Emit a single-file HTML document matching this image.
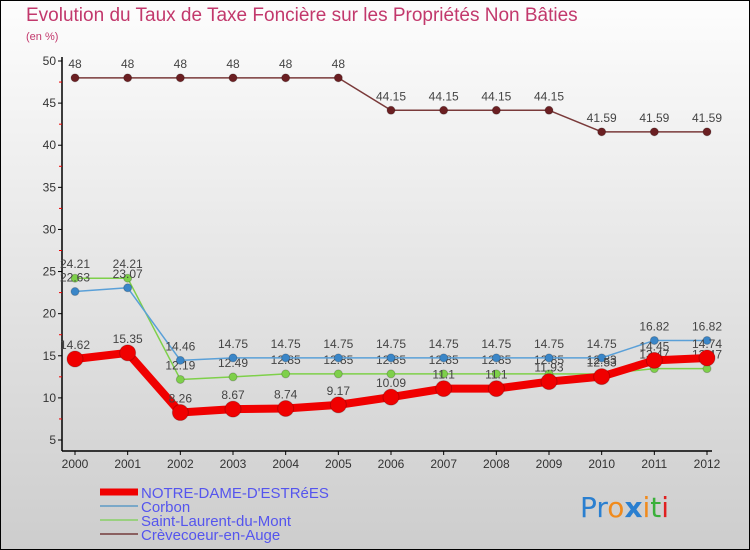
<!DOCTYPE html>
<html><head><meta charset="utf-8"><style>
body{margin:0;width:750px;height:550px;overflow:hidden}
svg{display:block;font-family:"Liberation Sans",sans-serif}
</style></head><body>
<svg id="chart" width="750" height="550" xmlns="http://www.w3.org/2000/svg">
<defs><linearGradient id="bg" x1="0" y1="0" x2="0" y2="1"><stop offset="0" stop-color="#fdfdfd"/><stop offset="1" stop-color="#cdcdcd"/></linearGradient></defs>
<rect x="0.5" y="0.5" width="749" height="549" fill="url(#bg)" stroke="#000"/>
<text x="26" y="21" font-size="19" fill="#c2386c">Evolution du Taux de Taxe Foncière sur les Propriétés Non Bâties</text>
<text x="26" y="40" font-size="11" fill="#c2386c">(en %)</text>
<g id="axes"></g><g id="series"></g><g id="legend"></g>
<text x="580" y="517" font-size="28" font-family="'DejaVu Sans',sans-serif"><tspan fill="#2a7fd0">Pr</tspan><tspan fill="#f08a1c">o</tspan><tspan fill="#2a7fd0" font-weight="bold">x</tspan><tspan fill="#f08a1c">i</tspan><tspan fill="#3ab03a">t</tspan><tspan fill="#e02020">i</tspan></text>
</svg>
<script>
const years=[2000,2001,2002,2003,2004,2005,2006,2007,2008,2009,2010,2011,2012];
const notreDame=[14.62,15.35,8.26,8.67,8.74,9.17,10.09,11.1,11.1,11.93,12.53,14.45,14.74];
const corbon=[22.63,23.07,14.46,14.75,14.75,14.75,14.75,14.75,14.75,14.75,14.75,16.82,16.82];
const saintLaurent=[24.21,24.21,12.19,12.49,12.85,12.85,12.85,12.85,12.85,12.85,12.83,13.47,13.47];
const crevecoeur=[48,48,48,48,48,48,44.15,44.15,44.15,44.15,41.59,41.59,41.59];
const yTicks=[5,10,15,20,25,30,35,40,45,50];
const NS="http://www.w3.org/2000/svg";
const x=i=>75+i*(707-75)/12;
const y=v=>440-(v-5)*(379/45);
function mk(p,t,a){const e=document.createElementNS(NS,t);for(const k in a)e.setAttribute(k,a[k]);p.appendChild(e);return e;}
const ax=document.getElementById('axes');
let l=mk(ax,'line',{x1:62,y1:57,x2:62,y2:451,stroke:'#000','stroke-width':1.5});


l=mk(ax,'line',{x1:62,y1:451,x2:712,y2:451,stroke:'#000','stroke-width':1.5});


yTicks.forEach(v=>{
 mk(ax,'line',{x1:58,y1:y(v),x2:62,y2:y(v),stroke:'#000'});
 if(v<50) mk(ax,'line',{x1:59,y1:y(v+2.5),x2:62,y2:y(v+2.5),stroke:'#e00'});
 const t=mk(ax,'text',{x:56,y:y(v)+4,'text-anchor':'end','font-size':12,fill:'#333'});
 t.textContent=v;
 
 
});
years.forEach((yr,i)=>{
 mk(ax,'line',{x1:x(i),y1:451,x2:x(i),y2:455,stroke:'#000'});
 const t=mk(ax,'text',{x:x(i),y:468,'text-anchor':'middle','font-size':12,fill:'#333'});
 t.textContent=yr;
 
 
});
const series=[
 {name:'crevecoeur',label:'Crèvecoeur-en-Auge',d:crevecoeur,c:'#6b1f22',w:1.5,r:4,lc:'#8a6060'},
 {name:'saint-laurent',label:'Saint-Laurent-du-Mont',d:saintLaurent,c:'#7ed04a',w:1.5,r:4,lc:'#9ad080'},
 {name:'corbon',label:'Corbon',d:corbon,c:'#3a86c8',w:1.5,r:4,lc:'#7aa8c8'},
 {name:'notre-dame',label:'NOTRE-DAME-D\'ESTRéES',d:notreDame,c:'#f00000',w:8,r:8,lc:'#f00000'}];
const sg=document.getElementById('series');
series.forEach(s=>{
 const g=mk(sg,'g',{});
 
 
 const lc=s.name==='crevecoeur'?'#7a3a3a':(s.name==='corbon'?'#5aa0d8':s.c);
 const pl=mk(g,'polyline',{points:s.d.map((v,i)=>x(i)+','+y(v)).join(' '),fill:'none',stroke:lc,'stroke-width':s.w,'stroke-linejoin':'round'});
 
 
 s.d.forEach((v,i)=>{
  const c=mk(g,'circle',{cx:x(i),cy:y(v),r:s.r,fill:s.c,stroke:'rgba(0,0,0,0.2)'});
  
  
  const t=mk(g,'text',{x:x(i),y:y(v)-10,'text-anchor':'middle','font-size':12,fill:'#444'});
  t.textContent=v;
  
  
 });
});
const lg=document.getElementById('legend');
[...series].reverse().forEach((s,k)=>{
 const yy=492+k*14;
 const e=mk(lg,'g',{});
 
 
 mk(e,'line',{x1:100,y1:yy,x2:138,y2:yy,stroke:s.lc,'stroke-width':s.w===8?7:2});
 const t=mk(e,'text',{x:141,y:yy+6,'font-size':15,fill:'#5555ee'});
 t.textContent=s.label;
});
</script>
</body></html>
